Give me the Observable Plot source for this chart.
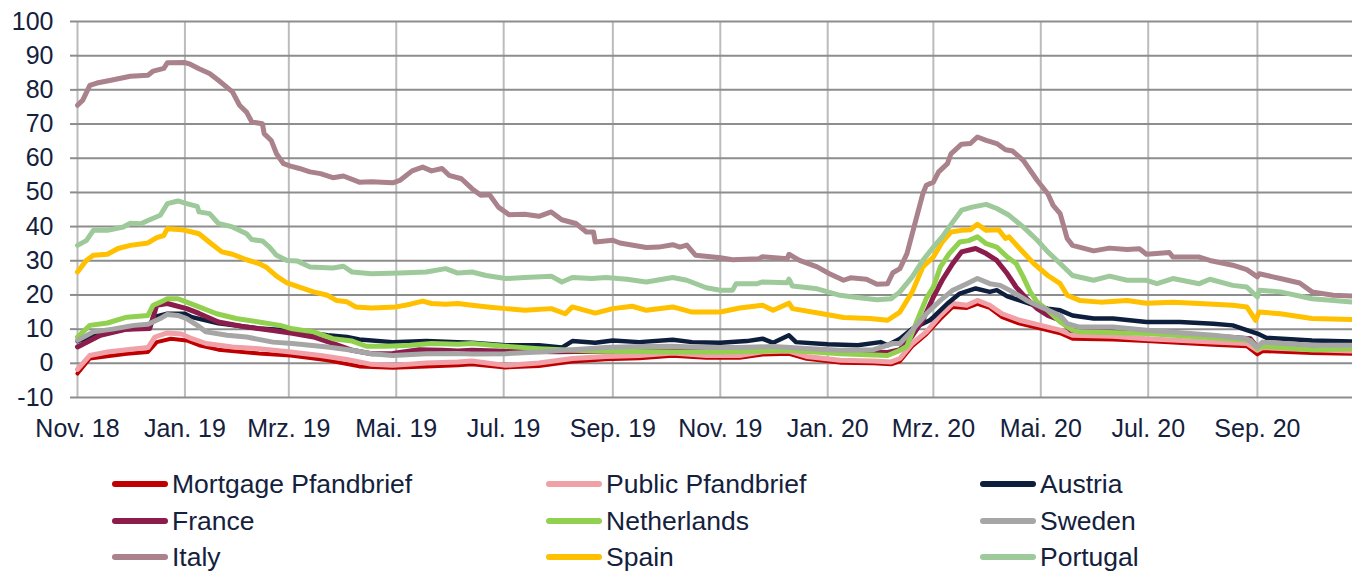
<!DOCTYPE html>
<html>
<head>
<meta charset="utf-8">
<script src="https://cdn.jsdelivr.net/npm/d3@7"></script>
<script src="https://cdn.jsdelivr.net/npm/@observablehq/plot@0.6"></script>
<style>
  html, body { margin: 0; padding: 0; background: #fff; }
  #wrap { position: relative; width: 1352px; height: 572px; font-family: "Liberation Sans", Arial, sans-serif; color: #14213d; }
  #legend { position: absolute; left: 0; top: 0; width: 1352px; height: 572px; pointer-events: none; }
  .item { position: absolute; height: 36px; display: flex; align-items: center; font-size: 26.5px; white-space: nowrap; }
  .sw { width: 56px; height: 6px; border-radius: 3px; margin-right: 4px; }
</style>
</head>
<body>
<div id="wrap"><div id="chart"></div><div id="legend"></div></div>
<script>
// ---- data ----
const seriesNames = ["Mortgage Pfandbrief", "Public Pfandbrief", "Austria", "France", "Netherlands", "Sweden", "Italy", "Spain", "Portugal"];
const seriesColors = ["#c00000", "#f0a1a8", "#0d1f3c", "#8b1c4b", "#92d050", "#a6a6a6", "#a9828b", "#ffc000", "#9ec99a"];

const xTickDates = ["2018-11-01","2019-01-01","2019-03-01","2019-05-01","2019-07-01","2019-09-01","2019-11-01","2020-01-01","2020-03-01","2020-05-01","2020-07-01","2020-09-01"];
const xTickLabels = ["Nov. 18","Jan. 19","Mrz. 19","Mai. 19","Jul. 19","Sep. 19","Nov. 19","Jan. 20","Mrz. 20","Mai. 20","Jul. 20","Sep. 20"];
const yTicks = [-10, 0, 10, 20, 30, 40, 50, 60, 70, 80, 90, 100];

const mortgage = [["2018-11-01",-3],["2018-11-08",1.4],["2018-11-29",2.8],["2018-12-11",3.3],["2018-12-16",6.2],["2018-12-24",7.2],["2019-01-02",6.7],["2019-01-09",5.3],["2019-01-20",4],["2019-02-12",2.9],["2019-03-02",2.3],["2019-03-23",0.9],["2019-04-10",-0.9],["2019-04-29",-1.3],["2019-05-18",-0.9],["2019-06-05",-0.6],["2019-06-13",-0.3],["2019-07-02",-1.2],["2019-07-21",-0.8],["2019-08-09",0.5],["2019-08-28",1.2],["2019-09-16",1.5],["2019-10-05",2.2],["2019-10-24",1.6],["2019-11-12",1.6],["2019-11-25",2.6],["2019-12-10",2.8],["2019-12-20",1.3],["2020-01-08",0.2],["2020-01-27",0],["2020-02-06",-0.3],["2020-02-11",0.6],["2020-02-18",5],["2020-02-26",8.5],["2020-03-05",13],["2020-03-12",16.5],["2020-03-20",16.2],["2020-03-26",17.4],["2020-04-02",16.2],["2020-04-09",13.5],["2020-04-19",11.6],["2020-05-01",10.2],["2020-05-12",8.8],["2020-05-19",7.2],["2020-06-11",7],["2020-06-30",6.5],["2020-08-07",5.4],["2020-08-26",5],["2020-09-01",2.6],["2020-09-04",3.6],["2020-10-02",3],["2020-10-25",2.8]];
const publicPf = [["2018-11-01",-1.8],["2018-11-08",2.3],["2018-11-18",3.3],["2018-11-29",4],["2018-12-11",4.6],["2018-12-15",7.7],["2018-12-22",8.9],["2018-12-30",8.6],["2019-01-05",7.2],["2019-01-13",5.8],["2019-01-28",4.8],["2019-02-12",4.3],["2019-03-02",3.3],["2019-03-19",2.3],["2019-04-03",1.1],["2019-04-17",-0.3],["2019-04-29",-0.6],["2019-05-18",0.1],["2019-06-05",0.4],["2019-06-13",0.7],["2019-07-02",-0.6],["2019-07-21",0.1],["2019-08-09",1.4],["2019-08-28",2],["2019-09-16",2.3],["2019-10-05",3],["2019-10-24",2.3],["2019-11-12",2.3],["2019-11-25",3.4],["2019-12-10",3.6],["2019-12-20",2],["2020-01-08",0.9],["2020-01-27",0.7],["2020-02-06",0.4],["2020-02-11",1.4],["2020-02-18",5.8],["2020-02-26",9.2],["2020-03-05",14],["2020-03-12",17.5],["2020-03-20",17],["2020-03-26",18.4],["2020-04-02",17],["2020-04-09",14.5],["2020-04-19",12.6],["2020-05-01",11.1],["2020-05-12",9.7],["2020-05-19",8.2],["2020-06-11",7.9],["2020-06-30",7.2],["2020-08-07",6.2],["2020-08-26",5.8],["2020-09-01",3.8],["2020-09-04",4.6],["2020-10-02",4],["2020-10-25",3.6]];
const austria = [["2018-11-01",6.5],["2018-11-14",8.5],["2018-11-29",10],["2018-12-12",10.5],["2018-12-14",13.5],["2018-12-22",14.5],["2019-01-01",14.5],["2019-01-05",13.5],["2019-01-20",11.7],["2019-02-12",10.2],["2019-03-02",9.6],["2019-03-23",8.2],["2019-04-03",7.7],["2019-04-10",7],["2019-04-29",6.2],["2019-05-18",6.5],["2019-06-05",6.2],["2019-06-13",6],["2019-07-02",5.3],["2019-07-21",5.3],["2019-08-03",4.6],["2019-08-09",6.5],["2019-08-22",6],["2019-09-01",6.7],["2019-09-16",6.2],["2019-10-05",6.9],["2019-10-16",6.2],["2019-11-01",6],["2019-11-16",6.5],["2019-11-25",7.2],["2019-12-01",6],["2019-12-10",8.2],["2019-12-14",6.2],["2020-01-01",5.6],["2020-01-18",5.3],["2020-01-31",6.2],["2020-02-04",5.3],["2020-02-11",7.2],["2020-02-18",10.1],["2020-02-28",12.6],["2020-03-01",13.5],["2020-03-09",17.5],["2020-03-16",20.4],["2020-03-25",21.9],["2020-04-02",20.9],["2020-04-06",21.4],["2020-04-12",19.6],["2020-04-19",18.4],["2020-04-27",17],["2020-05-05",16],["2020-05-12",15.5],["2020-05-19",14],["2020-05-31",13.1],["2020-06-11",13.1],["2020-06-30",12.1],["2020-07-19",12.1],["2020-08-07",11.6],["2020-08-18",11.1],["2020-08-26",9.7],["2020-09-01",8.7],["2020-09-06",7.5],["2020-10-02",6.7],["2020-10-25",6.4]];
const france = [["2018-11-01",4.8],["2018-11-14",8.2],["2018-11-29",10],["2018-12-12",10.2],["2018-12-16",17],["2018-12-22",17.5],["2019-01-02",16],["2019-01-09",14.6],["2019-01-20",12.1],["2019-02-05",10.6],["2019-02-20",9.6],["2019-03-03",8.8],["2019-03-15",7.7],["2019-03-26",5.8],["2019-04-06",3.8],["2019-04-17",2.8],["2019-04-29",2.9],["2019-05-14",4],["2019-05-27",3.8],["2019-06-05",3.6],["2019-06-13",3.8],["2019-07-02",3.5],["2019-08-01",3.4],["2019-09-01",3.6],["2019-10-01",4],["2019-11-01",4],["2019-12-01",4],["2020-01-01",3.5],["2020-02-04",3.2],["2020-02-11",4],["2020-02-18",8],["2020-02-24",12.6],["2020-03-01",19.4],["2020-03-06",24.3],["2020-03-12",29.2],["2020-03-17",32.6],["2020-03-25",33.6],["2020-03-31",32.1],["2020-04-06",30.1],["2020-04-12",26.2],["2020-04-17",22.3],["2020-04-23",18.9],["2020-04-29",16],["2020-05-05",14],["2020-05-12",12.6],["2020-05-18",9.7],["2020-05-31",9.3],["2020-06-30",9],["2020-08-07",8],["2020-08-28",7.2],["2020-09-01",4.6],["2020-09-04",5.4],["2020-10-02",4.5],["2020-10-25",4.6]];
const netherlands = [["2018-11-01",7.7],["2018-11-08",11.1],["2018-11-18",11.8],["2018-11-29",13.5],["2018-12-11",14],["2018-12-14",17],["2018-12-18",17.9],["2018-12-22",18.9],["2018-12-28",18.9],["2019-01-02",17.9],["2019-01-09",16.5],["2019-01-19",14.5],["2019-01-30",13.1],["2019-02-12",12.1],["2019-02-24",11.1],["2019-03-03",10.1],["2019-03-15",9.2],["2019-03-26",7.2],["2019-04-06",6.5],["2019-04-14",5],["2019-04-25",5],["2019-05-09",5.3],["2019-05-21",5.8],["2019-06-05",5.6],["2019-06-13",5.8],["2019-07-02",5],["2019-07-21",4.3],["2019-08-09",3.8],["2019-09-01",3.5],["2019-10-05",3.3],["2019-11-01",3.3],["2019-12-10",3.8],["2020-01-08",2.8],["2020-02-04",2.3],["2020-02-11",3.8],["2020-02-15",5],["2020-02-18",9],["2020-02-22",14],["2020-02-26",19],["2020-03-01",22.3],["2020-03-05",28.2],["2020-03-10",32.1],["2020-03-16",35.5],["2020-03-21",35.9],["2020-03-26",37],["2020-03-31",35],["2020-04-06",34],["2020-04-12",31.1],["2020-04-17",29.2],["2020-04-21",25.3],["2020-04-25",20.9],["2020-04-29",17.9],["2020-05-05",15.5],["2020-05-12",12.1],["2020-05-19",9.7],["2020-05-23",9.2],["2020-06-30",8.7],["2020-08-07",7.5],["2020-08-28",6.7],["2020-09-01",4.3],["2020-09-04",5],["2020-10-02",4],["2020-10-25",4.3]];
const sweden = [["2018-11-01",6.7],["2018-11-10",9.2],["2018-11-21",10],["2018-12-03",11.1],["2018-12-11",11.4],["2018-12-18",13.1],["2018-12-22",14.3],["2018-12-28",14],["2019-01-02",13.1],["2019-01-08",11.1],["2019-01-13",9.2],["2019-01-25",8.2],["2019-02-05",7.7],["2019-02-20",6.2],["2019-03-03",5.8],["2019-03-23",4.8],["2019-04-06",3.8],["2019-04-17",2.8],["2019-04-29",2.3],["2019-05-18",2.8],["2019-06-05",2.9],["2019-06-13",2.7],["2019-07-02",2.8],["2019-07-21",3.3],["2019-08-09",4],["2019-08-28",4.6],["2019-09-16",4.9],["2019-10-05",5],["2019-10-24",4.6],["2019-11-12",4.6],["2019-12-01",4.9],["2019-12-20",4.3],["2020-01-08",3.8],["2020-01-27",4],["2020-02-07",5.8],["2020-02-11",5.8],["2020-02-18",9.7],["2020-02-26",14.5],["2020-03-05",18.4],["2020-03-12",21.4],["2020-03-20",23.3],["2020-03-26",24.8],["2020-04-02",23.3],["2020-04-08",22.8],["2020-04-15",20.9],["2020-04-23",18.4],["2020-05-01",16.5],["2020-05-12",14],["2020-05-16",11.6],["2020-05-23",10.6],["2020-06-11",10.6],["2020-06-30",9.7],["2020-08-07",8.2],["2020-08-26",7.2],["2020-09-01",4.8],["2020-09-04",6.2],["2020-10-02",5.3],["2020-10-25",5.3]];
const italy = [["2018-11-01",75.5],["2018-11-04",77],["2018-11-08",81.3],["2018-11-12",82],["2018-11-20",82.8],["2018-12-01",84],["2018-12-11",84.3],["2018-12-14",85.5],["2018-12-20",86.3],["2018-12-22",87.9],["2019-01-01",88],["2019-01-04",87.5],["2019-01-09",86.2],["2019-01-15",84.8],["2019-01-20",82.8],["2019-01-28",79.4],["2019-02-01",75.5],["2019-02-05",73.5],["2019-02-08",70.6],["2019-02-14",70.1],["2019-02-15",67.2],["2019-02-19",65.2],["2019-02-22",61.3],["2019-02-26",58.4],["2019-03-02",57.7],["2019-03-07",57],["2019-03-13",56],["2019-03-19",55.5],["2019-03-26",54.3],["2019-04-01",54.8],["2019-04-10",53],["2019-04-17",53.1],["2019-04-29",52.8],["2019-05-03",53.5],["2019-05-10",56.3],["2019-05-16",57.4],["2019-05-21",56.3],["2019-05-27",57],["2019-05-31",55],["2019-06-07",54],["2019-06-13",51.1],["2019-06-18",49.2],["2019-06-23",49.3],["2019-06-28",45.7],["2019-07-04",43.5],["2019-07-13",43.6],["2019-07-21",43],["2019-07-28",44.3],["2019-08-03",42],["2019-08-11",40.9],["2019-08-17",38.4],["2019-08-21",38.4],["2019-08-22",35.5],["2019-09-01",36],["2019-09-05",35.2],["2019-09-20",33.9],["2019-09-27",34],["2019-10-05",34.7],["2019-10-09",34],["2019-10-13",34.6],["2019-10-18",31.6],["2019-11-01",30.9],["2019-11-08",30.3],["2019-11-23",30.6],["2019-11-25",31.2],["2019-12-09",30.6],["2019-12-10",31.9],["2019-12-16",30.1],["2019-12-26",28.2],["2020-01-02",26.2],["2020-01-10",24.3],["2020-01-14",25],["2020-01-23",24.6],["2020-01-29",23.1],["2020-02-04",23.3],["2020-02-07",26.5],["2020-02-11",27.7],["2020-02-15",32.1],["2020-02-20",41.8],["2020-02-24",49.6],["2020-02-26",52.1],["2020-03-01",53],["2020-03-04",56],["2020-03-09",58.4],["2020-03-11",61.3],["2020-03-17",64.1],["2020-03-22",64.3],["2020-03-26",66.2],["2020-03-31",65.2],["2020-04-06",64.3],["2020-04-11",62.5],["2020-04-15",62.1],["2020-04-21",59.4],["2020-04-29",53.5],["2020-05-05",49.6],["2020-05-08",46.2],["2020-05-12",43.8],["2020-05-16",36.5],["2020-05-19",34.5],["2020-05-31",32.9],["2020-06-09",33.7],["2020-06-19",33.3],["2020-06-26",33.5],["2020-06-30",31.9],["2020-07-13",32.4],["2020-07-15",31.1],["2020-07-30",31.1],["2020-08-05",30.1],["2020-08-18",28.7],["2020-08-26",27.4],["2020-09-01",25.3],["2020-09-02",26.2],["2020-09-14",24.8],["2020-09-25",23.5],["2020-10-02",20.9],["2020-10-14",19.9],["2020-10-25",19.7]];
const spain = [["2018-11-01",26.7],["2018-11-06",30.1],["2018-11-10",31.6],["2018-11-18",31.9],["2018-11-24",33.6],["2018-12-01",34.5],["2018-12-11",35.2],["2018-12-16",36.8],["2018-12-20",37.4],["2018-12-22",39.4],["2018-12-30",39.1],["2019-01-05",38.4],["2019-01-09",37.9],["2019-01-16",35],["2019-01-22",32.6],["2019-01-28",31.9],["2019-02-05",30.3],["2019-02-12",29.2],["2019-02-16",28.2],["2019-02-22",25.5],["2019-02-28",23.5],["2019-03-07",22.3],["2019-03-15",20.9],["2019-03-23",19.9],["2019-03-28",18.4],["2019-04-03",18],["2019-04-08",16.5],["2019-04-17",16.2],["2019-05-01",16.5],["2019-05-09",17.3],["2019-05-16",18.2],["2019-05-21",17.5],["2019-05-29",17.3],["2019-06-05",17.5],["2019-06-13",17],["2019-06-22",16.5],["2019-07-02",16],["2019-07-13",15.5],["2019-07-28",16],["2019-08-05",14.5],["2019-08-09",16.5],["2019-08-22",14.7],["2019-09-01",16],["2019-09-12",16.7],["2019-09-20",15.5],["2019-10-05",16.5],["2019-10-16",15],["2019-11-01",15],["2019-11-12",16.2],["2019-11-25",17],["2019-12-01",15.5],["2019-12-10",17.6],["2019-12-12",16],["2019-12-29",14.5],["2020-01-10",13.4],["2020-01-25",13.1],["2020-02-04",12.6],["2020-02-11",15],["2020-02-18",20.9],["2020-02-24",28.2],["2020-03-01",31.1],["2020-03-06",35.5],["2020-03-11",38.4],["2020-03-17",38.9],["2020-03-22",39.1],["2020-03-26",40.7],["2020-03-31",38.9],["2020-04-07",39.1],["2020-04-11",36.5],["2020-04-13",37],["2020-04-19",33.6],["2020-04-27",29.2],["2020-05-05",25.7],["2020-05-12",23.3],["2020-05-16",19.9],["2020-05-23",18.4],["2020-06-04",17.9],["2020-06-19",18.4],["2020-06-30",17.6],["2020-07-15",17.9],["2020-07-30",17.5],["2020-08-18",17],["2020-08-26",16.5],["2020-08-31",12.6],["2020-09-02",15],["2020-09-14",14.5],["2020-10-02",13.1],["2020-10-25",12.8]];
const portugal = [["2018-11-01",34.5],["2018-11-06",35.9],["2018-11-10",38.9],["2018-11-18",38.9],["2018-11-27",39.9],["2018-12-01",41],["2018-12-07",40.8],["2018-12-11",41.8],["2018-12-18",43.3],["2018-12-22",46.7],["2018-12-28",47.5],["2019-01-02",46.7],["2019-01-08",45.9],["2019-01-09",44.3],["2019-01-15",43.8],["2019-01-20",40.9],["2019-01-28",39.9],["2019-02-05",37.9],["2019-02-08",36.2],["2019-02-14",35.8],["2019-02-18",34],["2019-02-22",31.6],["2019-02-28",30.1],["2019-03-06",29.9],["2019-03-13",28.2],["2019-03-26",27.9],["2019-04-01",28.4],["2019-04-06",26.7],["2019-04-17",26.2],["2019-05-03",26.4],["2019-05-18",26.7],["2019-05-29",27.7],["2019-06-05",26.4],["2019-06-13",26.7],["2019-06-21",25.7],["2019-07-02",24.8],["2019-07-13",25.1],["2019-07-28",25.5],["2019-08-03",23.8],["2019-08-09",25.1],["2019-08-20",24.8],["2019-08-28",25.1],["2019-09-09",24.6],["2019-09-20",23.8],["2019-10-05",25.1],["2019-10-13",24.3],["2019-10-24",22.1],["2019-11-01",21.4],["2019-11-08",21.4],["2019-11-10",23.3],["2019-11-22",23.3],["2019-11-25",23.8],["2019-12-09",23.6],["2019-12-10",24.6],["2019-12-12",22.6],["2019-12-26",21.8],["2020-01-08",19.9],["2020-01-19",19.2],["2020-01-29",18.6],["2020-02-06",18.9],["2020-02-11",20.9],["2020-02-18",25.3],["2020-02-24",30.1],["2020-03-01",34],["2020-03-06",37],["2020-03-12",41.3],["2020-03-17",44.8],["2020-03-23",45.7],["2020-03-31",46.5],["2020-04-06",45.3],["2020-04-13",43.3],["2020-04-21",39.9],["2020-04-29",36],["2020-05-05",32.6],["2020-05-12",29.2],["2020-05-19",25.7],["2020-05-31",24.3],["2020-06-09",25.5],["2020-06-19",24.3],["2020-06-30",24.3],["2020-07-06",23.3],["2020-07-15",24.8],["2020-07-30",23.3],["2020-08-05",24.6],["2020-08-18",22.8],["2020-08-26",22.3],["2020-09-01",19.4],["2020-09-02",21.4],["2020-09-14",20.9],["2020-10-02",18.9],["2020-10-25",17.9]];

const seriesData = [mortgage, publicPf, austria, france, netherlands, sweden, italy, spain, portugal];
const seriesWidths = [4, 5, 4.5, 5, 5, 5, 5, 5, 5];

// ---- build ----
const parse = d3.utcParse("%Y-%m-%d");
const tickDates = xTickDates.map(parse);

const lineMarks = seriesData.map((arr, i) =>
  Plot.line(arr.map(([d, v]) => ({date: parse(d), value: v})), {
    x: "date", y: "value", stroke: seriesColors[i], strokeWidth: seriesWidths[i],
    strokeLinejoin: "round", strokeLinecap: "round"
  })
);

const chart = Plot.plot({
  width: 1352,
  height: 455,
  marginLeft: 77,
  marginRight: 0,
  marginTop: 21,
  marginBottom: 58,
  style: {fontFamily: "'Liberation Sans', Arial, sans-serif", fontSize: "25px", color: "#14213d", background: "white", overflow: "visible"},
  x: {type: "utc", domain: [parse("2018-11-01"), parse("2020-10-25")], label: null},
  y: {domain: [-10, 100], label: null},
  marks: [
    Plot.ruleX(tickDates, {stroke: "#bcbcbc", strokeWidth: 2}),
    Plot.ruleY(yTicks, {stroke: "#8d8d8d", strokeWidth: 2}),
    Plot.axisY({ticks: yTicks, label: null, tickSize: 7, tickPadding: 17, stroke: "#8d8d8d", strokeWidth: 2, strokeOpacity: 1, tickFormat: d => String(d)}),
    Plot.axisX({ticks: tickDates, label: null, tickSize: 0, tickPadding: 22, tickFormat: (d, i) => xTickLabels[i]}),
    ...lineMarks
  ]
});
document.getElementById("chart").appendChild(chart);

// ---- legend (3 x 3 grid) ----
const legend = document.getElementById("legend");
const colLeft = [112, 546, 980];
const rowCenter = [484, 521, 557];
seriesNames.forEach((name, i) => {
  const item = document.createElement("div");
  item.className = "item";
  item.style.left = colLeft[i % 3] + "px";
  item.style.top = (rowCenter[Math.floor(i / 3)] - 18) + "px";
  const sw = document.createElement("div");
  sw.className = "sw";
  sw.style.background = seriesColors[i];
  const label = document.createElement("span");
  label.textContent = name;
  item.appendChild(sw);
  item.appendChild(label);
  legend.appendChild(item);
});
</script>
</body>
</html>
